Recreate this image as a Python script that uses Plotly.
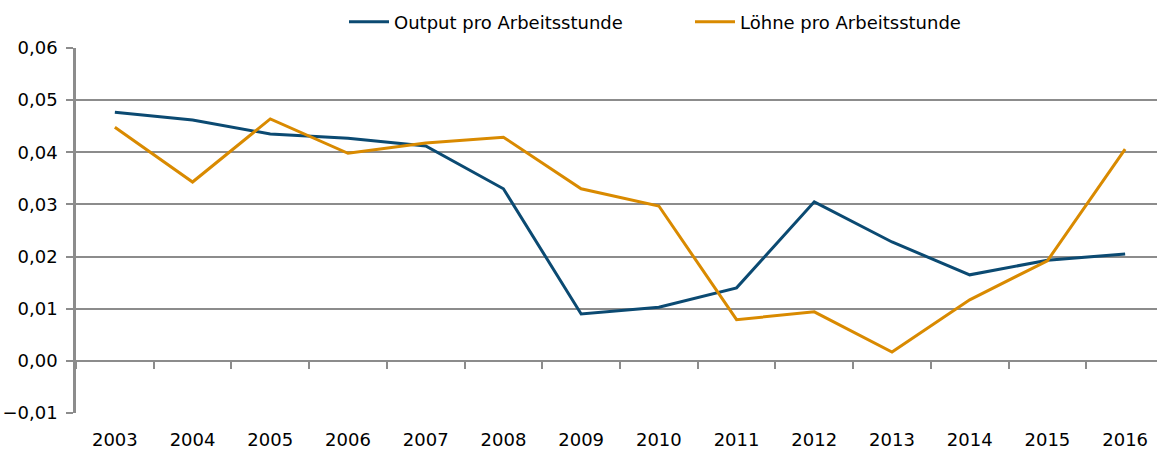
import plotly.graph_objects as go

years = ["2003", "2004", "2005", "2006", "2007", "2008", "2009", "2010",
         "2011", "2012", "2013", "2014", "2015", "2016"]
output_per_hour = [0.0477, 0.0462, 0.0435, 0.0427, 0.0412, 0.0330, 0.0090,
                   0.0103, 0.0140, 0.0305, 0.0228, 0.0165, 0.0193, 0.0205]
wages_per_hour = [0.0448, 0.0343, 0.0464, 0.0398, 0.0418, 0.0429, 0.0330,
                  0.0297, 0.0079, 0.0094, 0.0017, 0.0117, 0.0192, 0.0406]
series_names = ["Output pro Arbeitsstunde", "Löhne pro Arbeitsstunde"]
y_ticks = [-0.01, 0.0, 0.01, 0.02, 0.03, 0.04, 0.05, 0.06]

BLUE = "#0b4a72"
ORANGE = "#d98a00"
GRID = "#8c8c8c"
FONT = "DejaVu Sans"

fig = go.Figure()
fig.add_trace(go.Scatter(x=years, y=output_per_hour, name=series_names[0],
                         mode="lines", line=dict(color=BLUE, width=3),
                         xaxis="x", yaxis="y"))
fig.add_trace(go.Scatter(x=years, y=wages_per_hour, name=series_names[1],
                         mode="lines", line=dict(color=ORANGE, width=3),
                         xaxis="x2", yaxis="y"))

x_range = [-0.5, 13.41]
y_range = [-0.01, 0.06]
zero_pos = (0 - y_range[0]) / (y_range[1] - y_range[0])

fig.update_layout(
    width=1157, height=450,
    margin=dict(l=76, r=0, t=48, b=37, autoexpand=False),
    paper_bgcolor="white", plot_bgcolor="white",
    separators=",.",
    font=dict(family=FONT, size=18, color="#000000"),
    showlegend=True,
    legend=dict(orientation="h", x=(344 - 76) / 1081, xanchor="left",
                y=1 + (48 - 22) / 365, yanchor="middle",
                font=dict(family=FONT, size=18),
                entrywidth=291, itemwidth=40, traceorder="normal"),
    xaxis=dict(type="category", categoryorder="array", categoryarray=years,
               range=x_range, showgrid=False, zeroline=False,
               showline=False, ticks="outside", ticklen=10,
               tickcolor="rgba(0,0,0,0)", tickfont=dict(family=FONT, size=18),
               automargin=False, fixedrange=True),
    xaxis2=dict(type="category", categoryorder="array", categoryarray=years,
                range=x_range, overlaying="x", anchor="free",
                position=zero_pos, side="bottom", showgrid=False,
                zeroline=False, showline=False, ticks="outside", ticklen=7,
                tickwidth=2, tickcolor=GRID, tickson="boundaries",
                showticklabels=False, matches="x", automargin=False),
    yaxis=dict(range=y_range, tickvals=y_ticks, tickformat=".2f",
               showgrid=True, gridcolor=GRID, gridwidth=2, zeroline=False,
               showline=True, linecolor=GRID, linewidth=2.5,
               ticks="outside", ticklen=7, tickwidth=2, tickcolor=GRID,
               ticklabelstandoff=5, automargin=False,
               tickfont=dict(family=FONT, size=18), fixedrange=True),
)

fig.write_html("out.html",
               config={"displayModeBar": False},
               post_script="document.body.style.margin='0';"
                           "document.body.style.padding='0';"
                           "document.body.style.overflow='hidden';")
